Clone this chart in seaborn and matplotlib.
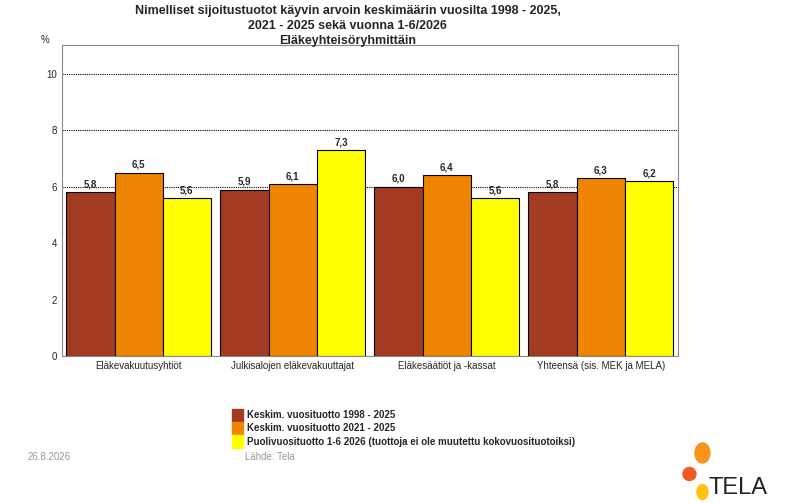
import seaborn as sns
import pandas as pd
import matplotlib.pyplot as plt
from matplotlib.patches import Ellipse

sns.set_style('white')
plt.rcParams['font.family'] = ['Liberation Sans', 'DejaVu Sans']

groups = ['Eläkevakuutusyhtiöt', 'Julkisalojen eläkevakuuttajat',
          'Eläkesäätiöt ja -kassat', 'Yhteensä (sis. MEK ja MELA)']
series = ['Keskim. vuosituotto 1998 - 2025', 'Keskim. vuosituotto 2021 - 2025',
          'Puolivuosituotto 1-6 2026 (tuottoja ei ole muutettu kokovuosituotoiksi)']
avg_1998 = [5.8, 5.9, 6.0, 5.8]
avg_2021 = [6.5, 6.1, 6.4, 6.3]
half_2026 = [5.6, 7.3, 5.6, 6.2]
colors = ['#A33A22', '#EE8400', '#FFFF00']

df = pd.DataFrame({
    'group': groups * 3,
    'series': [series[0]] * 4 + [series[1]] * 4 + [series[2]] * 4,
    'value': avg_1998 + avg_2021 + half_2026,
})

fig = plt.figure(figsize=(7.9, 5.03), dpi=100)
ax = fig.add_axes([0.078, 0.292, 0.78, 0.619])
for y in [6, 8, 10]:
    ax.axhline(y, color='black', lw=0.8, ls=(0, (1, 1)), zorder=0)
sns.barplot(data=df, x='group', y='value', hue='series', palette=colors, saturation=1,
            width=0.94, edgecolor='black', linewidth=0.8, ax=ax, zorder=2)
for cont in ax.containers:
    ax.bar_label(cont, labels=[f'{v:.1f}'.replace('.', ',') for v in cont.datavalues],
                 fontsize=7, fontweight='bold', padding=2)

ax.set_ylim(0, 11.03)
ax.set_xlim(-0.5, 3.5)
ax.set_yticks([0, 2, 4, 6, 8, 10])
ax.tick_params(axis='both', labelsize=7, length=0)
ax.set_xlabel('')
ax.set_ylabel('')
for s in ax.spines.values():
    s.set_color('#888888')
    s.set_linewidth(0.8)
ax.text(-0.02, 1.0, '%', transform=ax.transAxes, fontsize=7, ha='right', va='bottom')

ax.get_legend().remove()
handles = [plt.Rectangle((0, 0), 1, 1, color=c) for c in colors]
fig.legend(handles, series, loc='upper left', bbox_to_anchor=(0.283, 0.205),
           frameon=False, handlelength=1.1, handleheight=1.7,
           handletextpad=0.4, labelspacing=0.0, prop={'weight': 'bold', 'size': 7})

fig.suptitle('Nimelliset sijoitustuotot käyvin arvoin keskimäärin vuosilta 1998 - 2025,\n'
             '2021 - 2025 sekä vuonna 1-6/2026\nEläkeyhteisöryhmittäin',
             x=0.44, y=0.99, fontsize=9, fontweight='bold', linespacing=1.35)

fig.text(0.035, 0.085, '26.8.2026', fontsize=7, color='#999999')
fig.text(0.31, 0.085, 'Lähde: Tela', fontsize=7, color='#999999')

# logo
lax = fig.add_axes([0.855, 0.0, 0.145, 0.14])
lax.set_xlim(0, 114.5)
lax.set_ylim(0, 70.4)
lax.axis('off')
lax.add_patch(Ellipse((27, 50), 15, 20, color='#F7941D'))
lax.add_patch(Ellipse((14, 29), 13, 13, color='#F15A22'))
lax.add_patch(Ellipse((27, 11), 11, 15, color='#FFC20E'))
lax.text(33, 4, 'TELA', fontsize=17, color='#222222', va='bottom')

fig.savefig('out.png')
